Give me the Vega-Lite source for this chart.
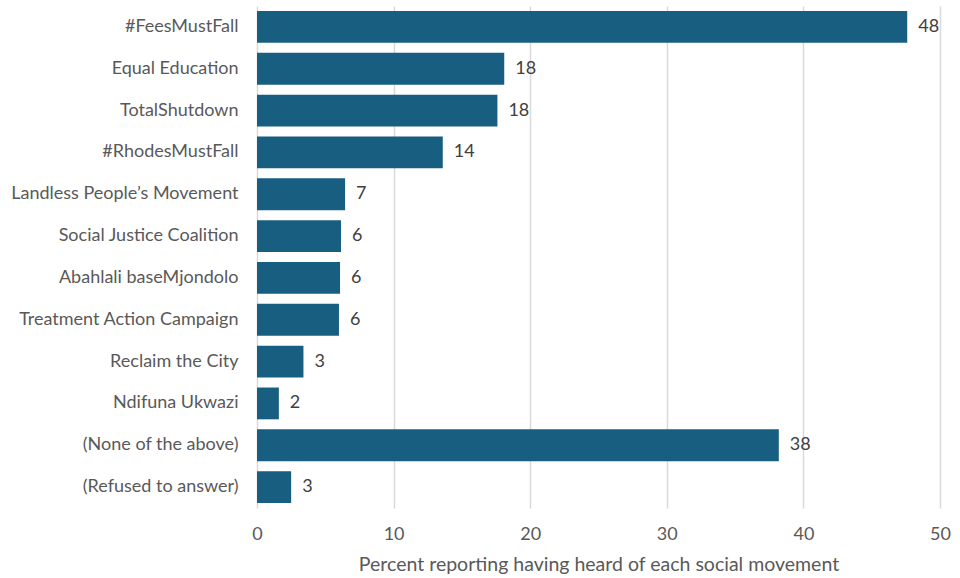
{
  "$schema": "https://vega.github.io/schema/vega-lite/v6.json",
  "width": 683,
  "height": 502,
  "autosize": {"type": "none"},
  "padding": {"left": 257, "top": 6, "right": 20, "bottom": 70},
  "background": "white",
  "config": {
    "view": {"stroke": null},
    "font": "Lato"
  },
  "data": {
    "values": [
      {"movement": "#FeesMustFall", "pct": 47.6, "label": "48"},
      {"movement": "Equal Education", "pct": 18.1, "label": "18"},
      {"movement": "TotalShutdown", "pct": 17.6, "label": "18"},
      {"movement": "#RhodesMustFall", "pct": 13.6, "label": "14"},
      {"movement": "Landless People’s Movement", "pct": 6.45, "label": "7"},
      {"movement": "Social Justice Coalition", "pct": 6.15, "label": "6"},
      {"movement": "Abahlali baseMjondolo", "pct": 6.08, "label": "6"},
      {"movement": "Treatment Action Campaign", "pct": 6.0, "label": "6"},
      {"movement": "Reclaim the City", "pct": 3.4, "label": "3"},
      {"movement": "Ndifuna Ukwazi", "pct": 1.6, "label": "2"},
      {"movement": "(None of the above)", "pct": 38.2, "label": "38"},
      {"movement": "(Refused to answer)", "pct": 2.5, "label": "3"}
    ]
  },
  "encoding": {
    "y": {
      "field": "movement",
      "type": "nominal",
      "sort": null,
      "scale": {"paddingInner": 0.24, "paddingOuter": 0.12},
      "axis": {
        "title": null,
        "domain": false,
        "ticks": false,
        "labelPadding": 19,
        "labelFontSize": 18,
        "labelColor": "#595959",
        "labelFont": "Lato",
        "labelLimit": 300
      }
    },
    "x": {
      "field": "pct",
      "type": "quantitative",
      "scale": {"domain": [0, 50]},
      "axis": {
        "values": [0, 10, 20, 30, 40, 50],
        "title": "Percent reporting having heard of each social movement",
        "titleFontSize": 19.5,
        "titleFontWeight": "normal",
        "titleColor": "#595959",
        "titlePadding": 12,
        "titleFont": "Lato",
        "labelFontSize": 18,
        "labelColor": "#595959",
        "labelPadding": 17,
        "labelFlush": false,
        "labelFont": "Lato",
        "domain": false,
        "ticks": false,
        "grid": true,
        "gridColor": "#d9d9d9",
        "gridWidth": 1.5
      }
    }
  },
  "layer": [
    {"mark": {"type": "bar", "color": "#175e80"}},
    {
      "mark": {"type": "text", "align": "left", "dx": 11, "fontSize": 18, "color": "#404040", "font": "Lato"},
      "encoding": {"text": {"field": "label"}}
    }
  ]
}
